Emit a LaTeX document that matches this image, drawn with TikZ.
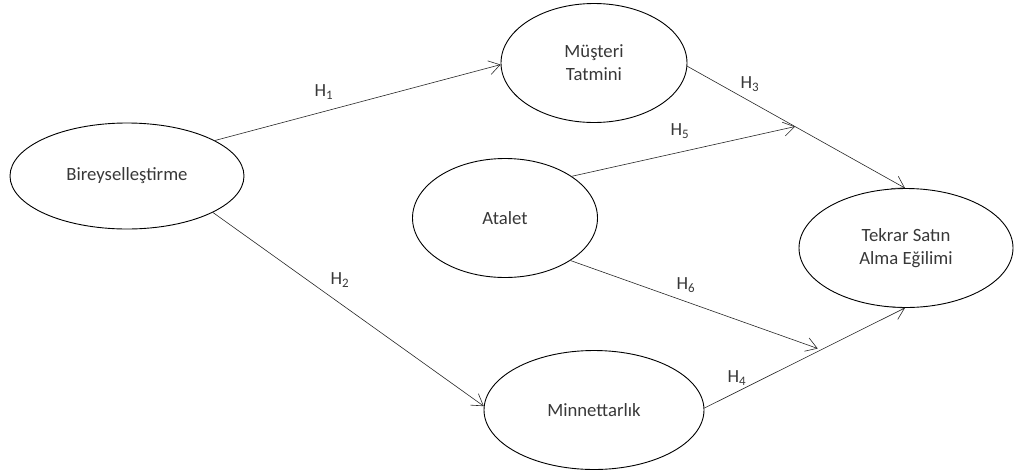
\documentclass[tikz,border=0pt]{standalone}
\usepackage{fontspec}
\setmainfont{Carlito}
\usetikzlibrary{shapes.geometric,arrows.meta,calc}
\begin{document}
\begin{tikzpicture}[x=1pt,y=-1pt,
  lv/.style={ellipse,draw=black,line width=0.9pt,inner sep=0pt,align=center,
    font=\fontsize{18.7}{23}\selectfont,text=black!78},
  arr/.style={draw=black!85,line width=0.6pt,-{Straight Barb[length=11pt,width=14pt]}},
  hl/.style={font=\fontsize{18.5}{20}\selectfont,text=black!78,inner sep=0pt}]
\useasboundingbox (0,0) rectangle (1015,472);
\node[lv,minimum width=234pt,minimum height=106pt] (bir) at (127,176) {Bireyselleştirme};
\node[lv,minimum width=186pt,minimum height=119pt] (mus) at (594,63) {Müşteri\\Tatmini};
\node[lv,minimum width=185pt,minimum height=119pt] (ata) at (505,218) {Atalet};
\node[lv,minimum width=214pt,minimum height=119pt] (tek) at (906,248) {Tekrar Satın\\Alma Eğilimi};
\node[lv,minimum width=220pt,minimum height=119pt] (min) at (594,410) {Minnettarlık};

\draw[arr] (bir.22.7) -- (mus.181);
\draw[arr] (bir.-23.3) -- (min.178.5);
\draw[arr] (mus.-2) -- (tek.91);
\draw[arr] (min.1) -- (tek.-91);
\coordinate (m35) at ($(mus.-2)!0.495!(tek.91)$);
\coordinate (m64) at ($(min.1)!0.565!(tek.-91)+(0,-3)$);
\draw[arr] (ata.32.7) -- (m35);
\draw[arr] (ata.-33.3) -- (m64);

\node[hl] (h1) at (324,92) {H\textsubscript{1}};
\node[hl] (h2) at (340,280) {H\textsubscript{2}};
\node[hl] (h3) at (750,84) {H\textsubscript{3}};
\node[hl] (h5) at (680,131) {H\textsubscript{5}};
\node[hl] (h6) at (686,285) {H\textsubscript{6}};
\node[hl] (h4) at (737,378) {H\textsubscript{4}};
\end{tikzpicture}
\end{document}
